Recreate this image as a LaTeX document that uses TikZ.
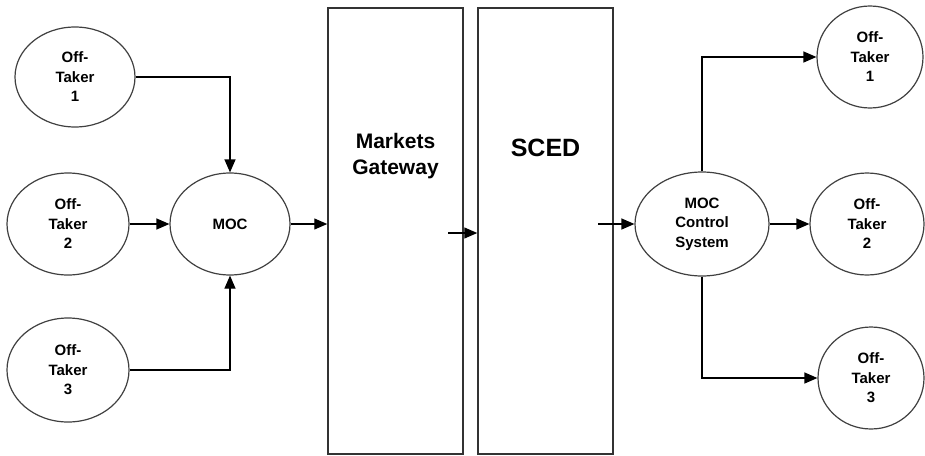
\documentclass[tikz,border=0pt]{standalone}
\usepackage{fontspec}
\setmainfont{Liberation Sans}
\usetikzlibrary{shapes.geometric,arrows.meta}
\begin{document}
\begin{tikzpicture}[x=1pt,y=-1pt,
  party/.style={ellipse,draw=black!75,line width=1.2pt,inner sep=0pt,align=center,
    font=\fontsize{15}{19.5}\selectfont\bfseries},
  stage/.style={rectangle,draw=black!80,line width=1.5pt,inner sep=0pt,
    minimum width=135pt,minimum height=446pt},
  stagetxt/.style={align=center,font=\fontsize{21}{26}\selectfont\bfseries},
  flow/.style={line width=1.2pt,-{Triangle[length=13pt,width=11pt]}}]
\useasboundingbox (0,0) rectangle (925,455);
% left side
\node[party,minimum width=120pt,minimum height=100pt] (lt1) at (75,77) {Off-\\Taker\\1};
\node[party,minimum width=122pt,minimum height=102pt] (lt2) at (68,224) {Off-\\Taker\\2};
\node[party,minimum width=122pt,minimum height=104pt] (lt3) at (68,370) {Off-\\Taker\\3};
\node[party,minimum width=120pt,minimum height=102pt] (moc) at (230,224) {MOC};
% middle
\node[stage] (mg) at (395.5,231) {};
\node[stage] (sced) at (545.5,231) {};
\node[stagetxt] (mgtxt) at (395.5,156) {Markets\\Gateway};
\node[stagetxt,font=\fontsize{25}{30}\selectfont\bfseries,anchor=base] (scedtxt) at (545.5,156) {SCED};
% right side
\node[party,minimum width=134pt,minimum height=104pt] (mcs) at (702,224) {MOC\\Control\\System};
\node[party,minimum width=106pt,minimum height=102pt] (rt1) at (870,57) {Off-\\Taker\\1};
\node[party,minimum width=114pt,minimum height=102pt] (rt2) at (867,224) {Off-\\Taker\\2};
\node[party,minimum width=106pt,minimum height=102pt] (rt3) at (871,378) {Off-\\Taker\\3};
\coordinate (mgout) at (448,233);
\coordinate (scedout) at (598,224);
% connectors
\draw[flow] (lt1.east) -| (moc.north);
\draw[flow] (lt2.east) -- (moc.west);
\draw[flow] (lt3.east) -| (moc.south);
\draw[flow] (moc.east) -- (moc.east -| mg.west);
\draw[flow] (mgout) -- (mgout -| sced.west);
\draw[flow] (scedout) -- (mcs.west);
\draw[flow] (mcs.north) |- (rt1.west);
\draw[flow] (mcs.east) -- (rt2.west);
\draw[flow] (mcs.south) |- (rt3.west);
\end{tikzpicture}
\end{document}
